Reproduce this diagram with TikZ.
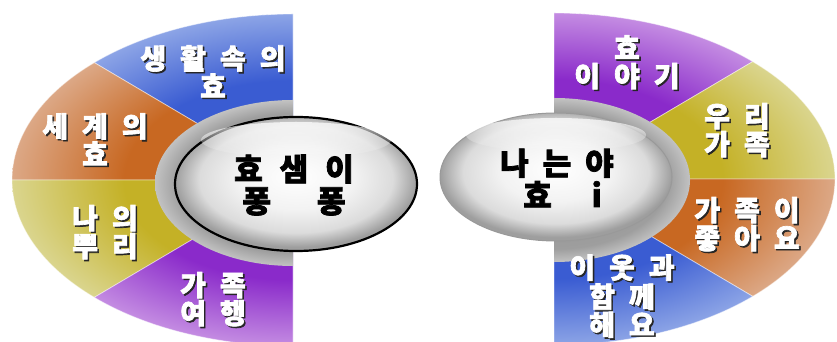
\documentclass[tikz,border=0pt]{standalone}
\usepackage{fontspec}
\newfontfamily\kr{Noto Sans CJK KR}[FakeBold=2.4]
\usetikzlibrary{fadings}
\definecolor{bluein}{HTML}{3A5CD2}
\definecolor{blueout}{HTML}{8CA4E6}
\definecolor{orgin}{HTML}{C86822}
\definecolor{orgout}{HTML}{DCA886}
\definecolor{yelin}{HTML}{C4B126}
\definecolor{yelout}{HTML}{DAD58E}
\definecolor{purin}{HTML}{8A2ACA}
\definecolor{purout}{HTML}{C48CE2}
\pgfdeclareradialshading{segblue}{\pgfpoint{0bp}{0bp}}{color(0bp)=(bluein); color(15bp)=(bluein); color(25bp)=(blueout); color(50bp)=(blueout)}
\pgfdeclareradialshading{segorg}{\pgfpoint{0bp}{0bp}}{color(0bp)=(orgin); color(15bp)=(orgin); color(25bp)=(orgout); color(50bp)=(orgout)}
\pgfdeclareradialshading{segyel}{\pgfpoint{0bp}{0bp}}{color(0bp)=(yelin); color(15bp)=(yelin); color(25bp)=(yelout); color(50bp)=(yelout)}
\pgfdeclareradialshading{segpur}{\pgfpoint{0bp}{0bp}}{color(0bp)=(purin); color(15bp)=(purin); color(25bp)=(purout); color(50bp)=(purout)}
\pgfdeclareradialshading{ringsh}{\pgfpoint{0bp}{0bp}}{color(0bp)=(black!45); color(21bp)=(black!38); color(25bp)=(black!24); color(50bp)=(black!24)}
\pgfdeclareradialshading{btnsh}{\pgfpoint{0bp}{3bp}}{color(0bp)=(white); color(12bp)=(black!5); color(20bp)=(black!14); color(25bp)=(black!38); color(50bp)=(black!38)}
\newcommand\shd[1]{\makebox[0pt][l]{\hspace{1.6pt}\raisebox{-1.6pt}{\color{black!85}#1}}#1}
\newcommand\lsp{\hspace{14pt}}
\newcommand\segpiece[5]{%
  \begin{scope}
    \clip (#1,#2) -- ++(#3:281pt and 166pt) arc[start angle=#3, end angle=#4, x radius=281pt, y radius=166pt] -- cycle;
    \shade[shading=#5] (#1,#2) ellipse[x radius=281pt, y radius=166pt];
  \end{scope}
  \draw[segline] (#1,#2) -- ++(#3:281pt and 166pt) arc[start angle=#3, end angle=#4, x radius=281pt, y radius=166pt] -- cycle;
}
\begin{document}
\begin{tikzpicture}[x=1pt,y=1pt,
  segline/.style={draw=white, draw opacity=0.5, line width=0.8pt},
  seglabel/.style={text=white, font=\kr\bfseries\fontsize{28}{28}\selectfont, align=center, inner sep=0pt},
  btnlabel/.style={text=black, font=\kr\bfseries\fontsize{31}{32}\selectfont, align=center, inner sep=0pt},
  shine/.style={fill=white, path fading=south, fill opacity=0.75}]
\useasboundingbox (0,0) rectangle (837,342);
\clip (0,0) rectangle (837,342);
% left half disc
\segpiece{293}{162}{90}{135}{segblue}
\segpiece{293}{162}{135}{180}{segorg}
\segpiece{293}{162}{180}{225}{segyel}
\segpiece{293}{162}{225}{270}{segpur}
% right half disc
\segpiece{554}{163}{90}{45}{segpur}
\segpiece{554}{163}{45}{0}{segyel}
\segpiece{554}{163}{0}{-45}{segorg}
\segpiece{554}{163}{-45}{-90}{segblue}
% gray rings
\begin{scope}
  \clip (293,242) arc[start angle=90, end angle=270, x radius=138, y radius=83] -- cycle;
  \shade[shading=ringsh] (293,159) ellipse[x radius=138, y radius=83];
\end{scope}
\begin{scope}
  \clip (554,244) arc[start angle=90, end angle=-90, x radius=136, y radius=82] -- cycle;
  \shade[shading=ringsh] (554,162) ellipse[x radius=136, y radius=82];
\end{scope}
% buttons
\shadedraw[shading=btnsh, draw=black, line width=2.2pt] (296,158) ellipse[x radius=121, y radius=67];
\fill[shine] (296,202) ellipse[x radius=95, y radius=18];
\shadedraw[shading=btnsh, draw=black!40, line width=1pt] (556,165) ellipse[x radius=116, y radius=64];
\fill[shine] (556,207) ellipse[x radius=90, y radius=17];
% button labels
\node[btnlabel] (btnL) at (294,157) {효\hspace{17pt}샘\hspace{17pt}이\\퐁\hspace{46pt}퐁};
\node[btnlabel] (btnR) at (557,164) {나\hspace{14pt}는\hspace{14pt}야\\\hspace*{11pt}효\hspace{40pt}i};
% left labels
\node[seglabel] (l1) at (213,270) {\shd{생\lsp 활\lsp 속\lsp 의}\\\shd{효}};
\node[seglabel] (l2) at (95,202) {\shd{세\lsp 계\lsp 의}\\\shd{효}};
\node[seglabel] (l3) at (105,109) {\shd{나\lsp 의}\\\shd{뿌\lsp 리}};
\node[seglabel] (l4) at (213,42) {\shd{가\lsp 족}\\\shd{여\lsp 행}};
% right labels
\node[seglabel] (r1) at (627,279) {\shd{효}\\\shd{이\lsp 야\lsp 기}};
\node[seglabel] (r2) at (737,211) {\shd{우\lsp 리}\\\shd{가\lsp 족}};
\node[seglabel] (r3) at (747,117) {\shd{가\lsp 족\lsp 이}\\\shd{좋\lsp 아\lsp 요}};
\node[seglabel] (r4) at (622,45) {\shd{이\lsp 웃\lsp 과}\\\shd{함\lsp 께}\\\shd{해\lsp 요}};
\end{tikzpicture}
\end{document}
